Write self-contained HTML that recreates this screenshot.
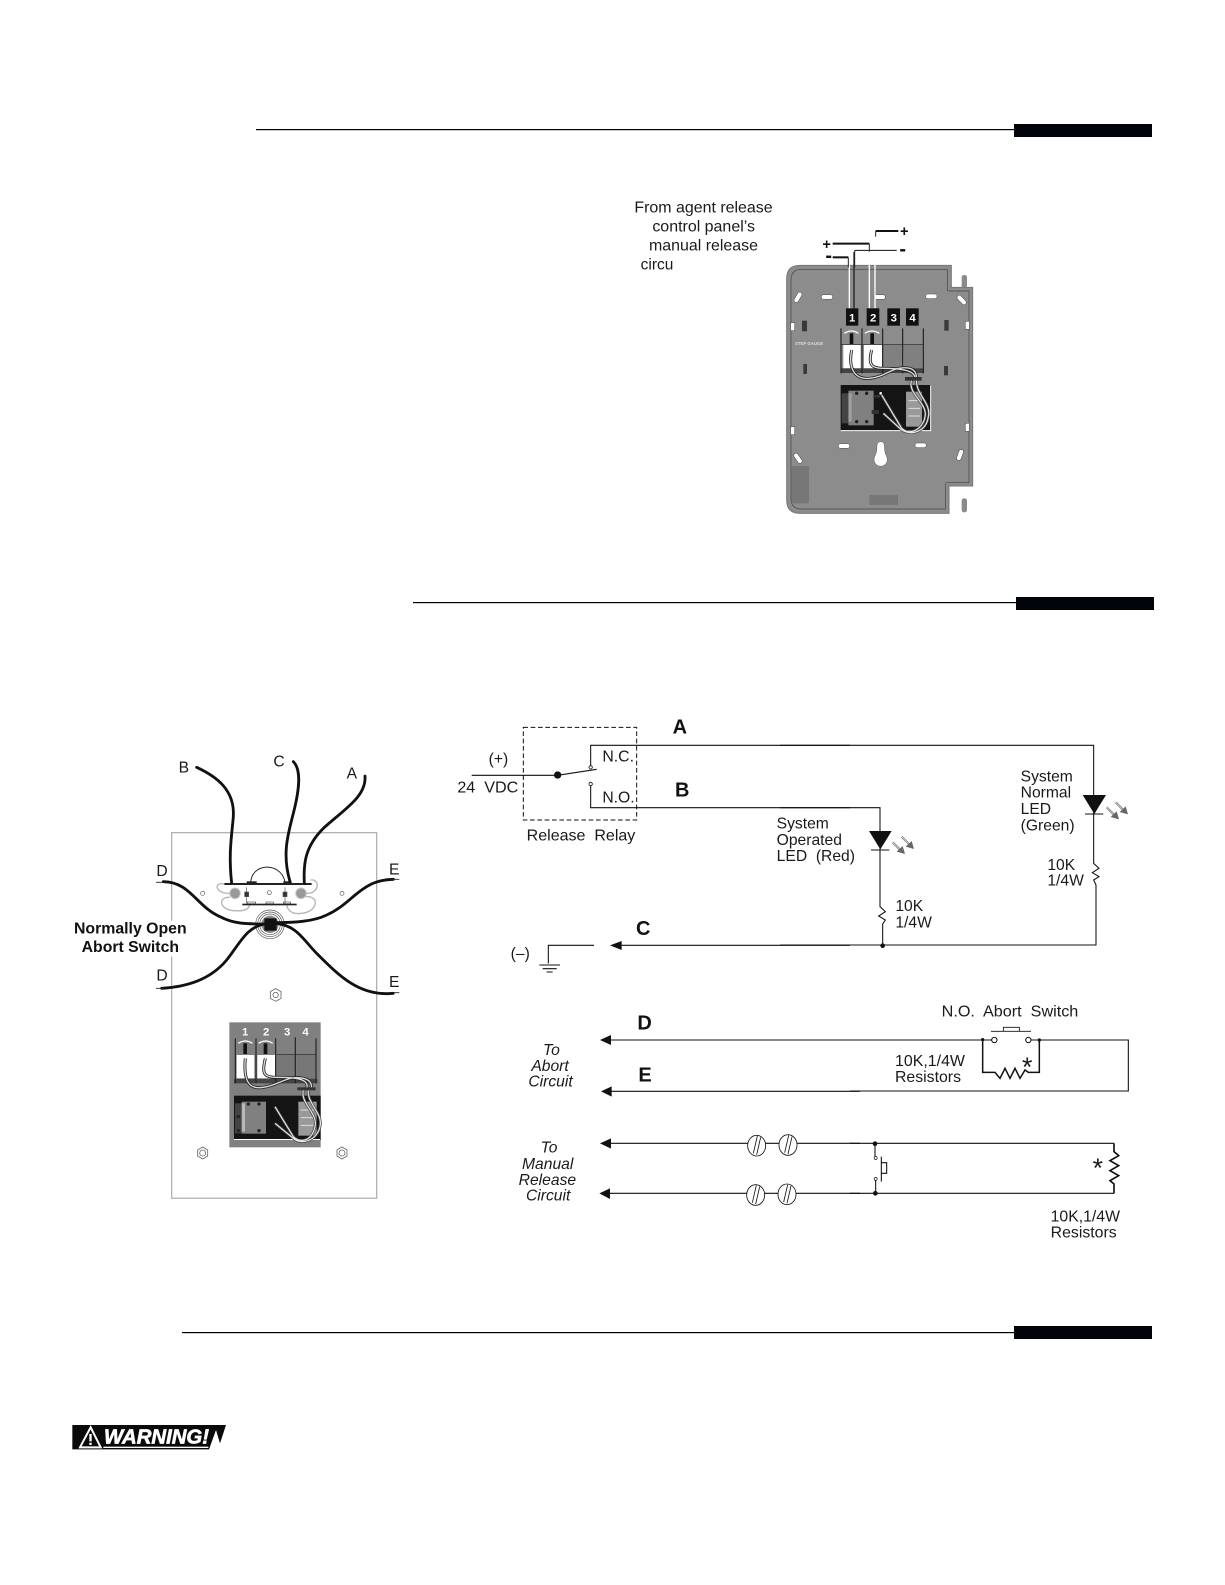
<!DOCTYPE html>
<html><head><meta charset="utf-8"><style>
html,body{margin:0;padding:0;background:#fff}
svg{display:block}
text{font-family:"Liberation Sans",sans-serif;fill:#1a1a1a;font-size:47px;white-space:pre}
.b{font-weight:bold;font-size:60px;fill:#111}
.i{font-style:italic}
.w{fill:none;stroke:#111;stroke-width:3.2}
.g{fill:none;stroke:#111;stroke-width:8.5;stroke-linecap:round}
.n{font-weight:bold;fill:#fff;font-size:34px}
</style></head><body>
<svg xmlns="http://www.w3.org/2000/svg" width="1225" height="1585" viewBox="0 0 1225 1585">
<rect width="1225" height="1585" fill="#fff"/>
<!-- header rules -->
<rect x="256" y="129" width="760" height="1.2" fill="#000"/><rect x="1014" y="124" width="138" height="13" fill="#01050a"/>
<rect x="413" y="602" width="605" height="1.2" fill="#000"/><rect x="1016" y="597" width="138" height="13" fill="#01050a"/>
<rect x="182" y="1332" width="834" height="1.2" fill="#000"/><rect x="1014" y="1326" width="138" height="13" fill="#01050a"/>

<!-- top right panel -->
<g transform="translate(600,180) scale(.33333)">
<text x="103" y="98" textLength="415" lengthAdjust="spacingAndGlyphs">From agent release</text>
<text x="157" y="155" textLength="308" lengthAdjust="spacingAndGlyphs">control panel’s</text>
<text x="147" y="212" textLength="327" lengthAdjust="spacingAndGlyphs">manual release</text>
<text x="122" y="268" textLength="98" lengthAdjust="spacingAndGlyphs">circu</text>
<rect x="1085" y="285" width="16" height="40" rx="7" fill="#8b8b8b"/>
<path d="M600 256H1054V322H1118V918H1047V1000H600Q560 1000 560 960V296Q560 256 600 256Z" fill="#8c8c8c" stroke="#777" stroke-width="3"/>
<path d="M605 268H1042V330Q1042 333 1050 333H1107V908H1040Q1036 908 1036 925V987H605Q573 987 573 955V300Q573 268 605 268Z" fill="#8c8c8c" stroke="#444" stroke-width="2"/>
<rect x="1085" y="955" width="16" height="42" rx="7" fill="#8b8b8b"/>
<rect x="575" y="858" width="52" height="112" rx="4" fill="#777"/><rect x="808" y="945" width="86" height="30" rx="3" fill="#777"/>
<g fill="#fff" stroke="#444" stroke-width="1.5">
<rect x="664" y="344" width="34" height="14" rx="7"/><rect x="822" y="344" width="34" height="14" rx="7"/><rect x="977" y="342" width="34" height="14" rx="7"/>
<rect x="715" y="791" width="34" height="14" rx="7"/><rect x="945" y="789" width="34" height="14" rx="7"/>
<rect x="577" y="345" width="34" height="14" rx="7" transform="rotate(-60 594 352)"/>
<rect x="1068" y="353" width="34" height="14" rx="7" transform="rotate(45 1085 360)"/>
<rect x="577" y="828" width="34" height="14" rx="7" transform="rotate(55 594 835)"/>
<rect x="1063" y="818" width="34" height="14" rx="7" transform="rotate(-70 1080 825)"/>
<rect x="572" y="428" width="12" height="24"/><rect x="1096" y="424" width="12" height="24"/><rect x="572" y="740" width="12" height="24"/><rect x="1096" y="730" width="12" height="24"/>
</g>
<g fill="#3a3a3a"><rect x="606" y="422" width="15" height="32"/><rect x="610" y="552" width="11" height="30"/><rect x="1033" y="420" width="13" height="32"/><rect x="1032" y="558" width="12" height="28"/></g>
<path d="M842 785a11 11 0 0 1 11 11q0 20 6 32a20 20 0 1 1-34 0q6-12 6-32a11 11 0 0 1 11-11Z" fill="#fff" stroke="#333" stroke-width="1"/>
<!-- external wires -->
<g fill="none">
<path d="M748 385V236" stroke="#fff" stroke-width="4"/><path d="M762 385V216" stroke="#222" stroke-width="4"/>
<path d="M808 385V196" stroke="#fff" stroke-width="4"/><path d="M825 385V156" stroke="#fff" stroke-width="4"/>
<path d="M698 232H745" stroke="#111" stroke-width="6"/><path d="M698 191H808" stroke="#111" stroke-width="6"/>
<path d="M764 211H890" stroke="#111" stroke-width="3"/><path d="M827 153H895" stroke="#111" stroke-width="6"/>
<path d="M745 232V262M808 191V215M764 211V262M827 153V170" stroke="#222" stroke-width="3"/>
</g>
<text class="b" x="667" y="207" style="font-size:44px">+</text><text class="b" x="676" y="246">-</text><text class="b" x="898" y="226">-</text><text class="b" x="900" y="168" style="font-size:44px">+</text>
<g fill="#111"><rect x="738" y="385" width="37" height="52"/><rect x="800" y="385" width="38" height="52"/><rect x="862" y="385" width="38" height="52"/><rect x="918" y="385" width="38" height="52"/></g>
<text class="n" x="747" y="424">1</text><text class="n" x="810" y="424">2</text><text class="n" x="872" y="424">3</text><text class="n" x="928" y="424">4</text>
<text x="585" y="495" style="font-size:13px;fill:#ddd;font-weight:bold">STEP GAUGE</text>
<!-- terminal block -->
<rect x="730" y="495" width="52" height="70" fill="#fff"/><rect x="792" y="495" width="54" height="70" fill="#fff"/>
<rect x="850" y="495" width="55" height="70" fill="#808080"/><rect x="912" y="495" width="56" height="70" fill="#808080"/>
<rect x="722" y="565" width="250" height="14" fill="#444"/>
<path d="M850 493H970M722 493H848" stroke="#222" stroke-width="2"/>
<g stroke="#222" stroke-width="3.5"><path d="M723 445V580M786 445V580M848 445V580M908 445V580M970 445V580"/></g>
<g fill="#111"><rect x="749" y="460" width="11" height="32"/><rect x="811" y="460" width="11" height="32"/></g>
<path d="M733 460Q755 446 775 460M795 460Q815 446 838 460" fill="none" stroke="#fff" stroke-width="4"/>
<!-- black box -->
<rect x="722" y="615" width="270" height="138" fill="#141414"/>
<path d="M722 752H992V616" stroke="#fff" stroke-width="3" fill="none"/>
<rect x="745" y="632" width="76" height="104" fill="#808080"/>
<rect x="725" y="640" width="20" height="90" fill="#444"/><rect x="745" y="640" width="10" height="85" fill="#ddd" opacity=".35"/>
<rect x="918" y="635" width="48" height="105" fill="#999"/>
<path d="M925 662H960M925 685H960M925 708H960" stroke="#ddd" stroke-width="3"/>
<g fill="none">
<path d="M755 510C745 560 760 600 810 595C860 590 880 555 930 565C945 570 950 580 950 600M815 510C805 550 810 565 850 565C900 565 950 570 945 600" stroke="#222" stroke-width="9"/>
<path d="M755 510C745 560 760 600 810 595C860 590 880 555 930 565C945 570 950 580 950 600M815 510C805 550 810 565 850 565C900 565 950 570 945 600" stroke="#ddd" stroke-width="4"/>
<path d="M935 600C920 640 985 670 975 710C970 745 930 770 905 745L845 645M950 600C945 640 995 670 985 710C980 750 940 770 905 750L850 700" stroke="#444" stroke-width="8"/>
<path d="M935 600C920 640 985 670 975 710C970 745 930 770 905 745L845 645M950 600C945 640 995 670 985 710C980 750 940 770 905 750L850 700" stroke="#e8e8e8" stroke-width="3.5"/>
</g>
<rect x="915" y="591" width="50" height="11" fill="#333"/>
<circle cx="842" cy="640" r="4" fill="#fff"/>
<g fill="#222"><circle cx="770" cy="640" r="5"/><circle cx="800" cy="640" r="5"/><circle cx="800" cy="725" r="5"/><circle cx="770" cy="725" r="5"/></g>
<rect x="820" y="645" width="20" height="8" fill="#333"/><rect x="815" y="690" width="22" height="12" fill="#333"/>
</g>

<!-- left panel -->
<rect x="171.7" y="832.7" width="205" height="365.5" fill="#fff" stroke="#aaa" stroke-width="1.2"/>
<g transform="translate(60,740) scale(.33333)">
<g fill="none" stroke="#b5b5b5" stroke-width="4">
<path d="M492 432C460 425 465 462 510 460M510 472C470 470 480 512 525 512C555 515 570 505 570 490"/>
<path d="M752 420C780 415 780 462 738 460M735 470C780 465 775 515 725 520C690 525 680 505 680 490"/>
</g>
<path d="M572 430C572 370 660 362 675 425" fill="none" stroke="#222" stroke-width="3"/>
<rect x="493" y="429" width="262" height="6" fill="#222"/><rect x="560" y="424" width="30" height="5" fill="#222"/><rect x="670" y="424" width="25" height="5" fill="#222"/>
<rect x="547" y="491" width="163" height="5" fill="#222"/>
<g fill="#fff" stroke="#222" stroke-width="1.5"><rect x="562" y="486" width="25" height="5"/><rect x="618" y="486" width="22" height="5"/><rect x="670" y="486" width="22" height="5"/></g>
<circle cx="525" cy="460" r="16" fill="#999" stroke="#ccc" stroke-width="3"/><circle cx="723" cy="460" r="16" fill="#999" stroke="#ccc" stroke-width="3"/>
<g fill="#fff" stroke="#555" stroke-width="2"><circle cx="428" cy="460" r="6"/><circle cx="628" cy="458" r="6"/><circle cx="846" cy="460" r="6"/></g>
<g stroke="#555" stroke-width="2" fill="#333"><path d="M560 442V490M675 442V490" fill="none"/><rect x="554" y="456" width="12" height="14"/><rect x="669" y="456" width="12" height="14"/></g>
<g fill="none" stroke="#555" stroke-width="2"><circle cx="630" cy="553" r="43"/><circle cx="630" cy="553" r="37"/><circle cx="630" cy="553" r="31"/></g>
<circle cx="630" cy="553" r="26" fill="#888"/>
<path class="g" d="M410 82C470 110 525 150 520 230C515 290 505 340 515 430"/>
<path class="g" d="M700 65C725 90 718 150 700 220C685 280 665 340 690 425"/>
<path class="g" d="M915 108C920 170 850 210 790 265C735 320 730 370 733 430"/>
<path class="g" d="M310 425C390 425 410 500 480 530C520 552 560 552 615 552"/>
<path class="g" d="M1000 418C900 420 880 490 800 525C760 545 700 548 645 548"/>
<path class="g" d="M305 745C380 740 450 720 500 660C540 610 560 560 615 552"/>
<path class="g" d="M1000 760C900 770 840 710 770 640C730 600 710 555 645 550"/>
<rect x="613" y="535" width="37" height="37" fill="#111"/>
<path d="M288 427H320M990 418H1018M288 745H310M1000 758H1018" stroke="#222" stroke-width="2.5"/>
<text x="356" y="98">B</text><text x="640" y="80">C</text><text x="860" y="116">A</text>
<text x="289" y="408">D</text><text x="987" y="403">E</text><text x="289" y="721">D</text><text x="987" y="741">E</text>
<rect x="38" y="542" width="346" height="108" fill="#fff"/>
<text class="b" x="42" y="580" style="font-size:47px" textLength="338" lengthAdjust="spacingAndGlyphs">Normally Open</text>
<text class="b" x="65" y="636" style="font-size:47px" textLength="292" lengthAdjust="spacingAndGlyphs">Abort Switch</text>
<g fill="none" stroke="#666" stroke-width="2.5"><path d="M647 746L663 755V775L647 784L631 775V755Z"/><circle cx="647" cy="765" r="8"/></g>
</g>
<g transform="translate(160,1000) scale(.33333)">
<rect x="208" y="67" width="274" height="375" fill="#808080"/>
<text class="n" x="246" y="106">1</text><text class="n" x="309" y="106">2</text><text class="n" x="372" y="106">3</text><text class="n" x="427" y="106">4</text>
<rect x="230" y="165" width="53" height="70" fill="#fff"/><rect x="292" y="165" width="53" height="70" fill="#fff"/>
<rect x="350" y="165" width="54" height="70" fill="#777"/><rect x="410" y="165" width="55" height="70" fill="#777"/>
<rect x="222" y="236" width="250" height="14" fill="#444"/>
<path d="M350 163H470" stroke="#222" stroke-width="2"/>
<g stroke="#222" stroke-width="3.5"><path d="M226 115V250M288 115V250M347 115V250M406 112V250M468 115V250"/></g>
<g fill="#111"><rect x="250" y="130" width="11" height="32"/><rect x="311" y="130" width="11" height="32"/></g>
<path d="M235 130Q256 116 277 130M296 130Q317 116 338 130" fill="none" stroke="#fff" stroke-width="4"/>
<rect x="222" y="287" width="260" height="133" fill="#141414"/>
<rect x="222" y="417" width="258" height="3" fill="#fff"/>
<rect x="245" y="305" width="73" height="96" fill="#808080"/><rect x="225" y="310" width="20" height="90" fill="#444"/><rect x="245" y="310" width="10" height="85" fill="#ddd" opacity=".6"/>
<rect x="415" y="305" width="55" height="102" fill="#999"/>
<path d="M422 330H460M422 353H460M422 376H460" stroke="#ddd" stroke-width="3"/>
<g fill="none">
<path d="M256 175C250 240 265 270 310 262C360 255 380 225 430 235C450 240 455 250 455 265M316 175C305 220 310 232 350 232C400 232 450 235 440 265" stroke="#222" stroke-width="9"/>
<path d="M256 175C250 240 265 270 310 262C360 255 380 225 430 235C450 240 455 250 455 265M316 175C305 220 310 232 350 232C400 232 450 235 440 265" stroke="#ddd" stroke-width="4"/>
<path d="M430 270C420 310 475 340 465 380C455 425 420 430 400 410L345 320M445 270C440 310 490 340 480 380C470 425 420 435 400 415L345 370" stroke="#444" stroke-width="8"/>
<path d="M430 270C420 310 475 340 465 380C455 425 420 430 400 410L345 320M445 270C440 310 490 340 480 380C470 425 420 435 400 415L345 370" stroke="#e8e8e8" stroke-width="3.5"/>
</g>
<rect x="412" y="262" width="55" height="9" fill="#333"/>
<g fill="#222"><circle cx="265" cy="312" r="5"/><circle cx="297" cy="312" r="5"/><circle cx="297" cy="392" r="5"/><circle cx="235" cy="392" r="5"/><circle cx="235" cy="350" r="5"/></g>
<g fill="none" stroke="#666" stroke-width="2.5"><path d="M128 441L143 450V468L128 477L113 468V450Z"/><circle cx="128" cy="459" r="9"/><path d="M546 441L561 450V468L546 477L531 468V450Z"/><circle cx="546" cy="459" r="9"/></g>
</g>

<!-- top schematic -->
<g transform="translate(450,700) scale(.33333)">
<rect x="220" y="82" width="340" height="278" fill="none" stroke="#111" stroke-width="3" stroke-dasharray="14 8"/>
<path class="w" d="M65 226H323L440 208"/>
<circle cx="323" cy="225" r="11" fill="#111"/>
<path class="w" d="M422 197V136H1200M422 258V323H1200"/>
<circle cx="422" cy="202" r="5" fill="#fff" stroke="#111" stroke-width="2.5"/><circle cx="422" cy="252" r="5" fill="#fff" stroke="#111" stroke-width="2.5"/>
<path class="w" d="M432 736H295V790M515 736H1200M268 795H330M278 806H320M290 816H308"/>
<path d="M480 736L515 723V750Z" fill="#111"/>
<text x="116" y="192">(+)</text><text x="22" y="277" textLength="183" lengthAdjust="spacingAndGlyphs">24  VDC</text>
<text x="457" y="185" textLength="95" lengthAdjust="spacingAndGlyphs">N.C.</text><text x="457" y="308" textLength="97" lengthAdjust="spacingAndGlyphs">N.O.</text>
<text x="230" y="422" textLength="326" lengthAdjust="spacingAndGlyphs">Release  Relay</text>
<text x="980" y="385">System</text><text x="980" y="435">Operated</text>
<text x="182" y="775">(–)</text>
<text class="b" x="668" y="100">A</text><text class="b" x="675" y="290">B</text><text class="b" x="558" y="705">C</text>
</g>
<g transform="translate(780,720) scale(.33333)">
<path class="w" d="M0 76H941V430L957 445L937 458L957 470L941 480L948 495V675H0"/>
<path class="w" d="M0 263H300V560L316 575L296 588L316 600L308 612V675"/>
<path d="M908 225H978L943 282Z" fill="#111"/><path d="M915 282H970" stroke="#111" stroke-width="3"/>
<path d="M267 333H335L301 388Z" fill="#111"/><path d="M273 390H328" stroke="#111" stroke-width="3"/>
<circle cx="308" cy="677" r="7" fill="#111"/>
<g fill="none" stroke-linecap="butt">
<path d="M338 367L364 393M365 350L391 376M980 262L1006 288M1007 247L1033 273" stroke="#555" stroke-width="6"/>
<path d="M338 367L364 393M365 350L391 376M980 262L1006 288M1007 247L1033 273" stroke="#eee" stroke-width="2.5"/>
</g>
<g fill="#666"><path d="M375 402L368 378L350 395ZM402 387L395 363L377 380ZM1017 298L1010 274L992 291ZM1044 283L1037 259L1019 276Z"/></g>
<text x="-10" y="423">LED  (Red)</text>
<text x="722" y="185">System</text><text x="722" y="233">Normal</text><text x="722" y="282">LED</text><text x="722" y="331">(Green)</text>
<text x="802" y="450">10K</text><text x="802" y="497">1/4W</text><text x="346" y="573">10K</text><text x="346" y="622">1/4W</text>
</g>

<!-- bottom schematic -->
<g transform="translate(510,990) scale(.33333)">
<path class="w" d="M300 150H1050M303 304H1050M300 460H1050M300 610H1050"/>
<path d="M270 150L303 135V165ZM273 304L305 289V320ZM270 460L303 445V476ZM268 610L300 595V627Z" fill="#111"/>
<g fill="#fff" stroke="#111" stroke-width="2.5">
<ellipse cx="740" cy="467" rx="27" ry="31"/><ellipse cx="834" cy="465" rx="27" ry="31"/><ellipse cx="737" cy="615" rx="27" ry="31"/><ellipse cx="831" cy="613" rx="27" ry="31"/>
<path d="M730 490L742 438M740 494L752 442M824 488L836 436M834 492L846 440M727 638L739 586M737 642L749 590M821 636L833 584M831 640L843 588" fill="none"/>
</g>
<text class="i" x="99" y="195">To</text><text class="i" x="64" y="243">Abort</text><text class="i" x="55" y="290">Circuit</text>
<text class="i" x="92" y="488">To</text><text class="i" x="36" y="537">Manual</text><text class="i" x="26" y="585">Release</text><text class="i" x="48" y="632">Circuit</text>
<text class="b" x="382" y="118">D</text><text class="b" x="385" y="274">E</text>
</g>
<g transform="translate(850,990) scale(.33333)">
<path class="w" d="M0 150H425M543 150H835V303H0M0 460H792M792 610H0"/>
<path d="M792 460V485L806 497L780 512L806 527L780 542L806 557L780 572L792 582V610" fill="none" stroke="#111" stroke-width="5"/>
<path d="M398 150V247H435L450 265L465 235L480 265L495 235L510 265L525 240L535 247H568V150" fill="none" stroke="#111" stroke-width="4.5"/>
<path d="M423 124H543M460 124V112H508V124" fill="none" stroke="#111" stroke-width="2.5"/>
<circle cx="433" cy="150" r="8" fill="#fff" stroke="#111" stroke-width="3"/><circle cx="535" cy="150" r="8" fill="#fff" stroke="#111" stroke-width="3"/>
<circle cx="398" cy="149" r="5" fill="#111"/><circle cx="568" cy="150" r="5" fill="#111"/>
<circle cx="75" cy="461" r="7" fill="#111"/><circle cx="76" cy="610" r="7" fill="#111"/>
<path class="w" d="M75 461V500M77 572V610M94 500V575M94 518H110V550H94"/>
<circle cx="77" cy="504" r="4.5" fill="#fff" stroke="#111" stroke-width="2"/><circle cx="77" cy="567" r="4.5" fill="#fff" stroke="#111" stroke-width="2"/>
<text x="275" y="80" textLength="410" lengthAdjust="spacingAndGlyphs">N.O.  Abort  Switch</text>
<text x="135" y="228" textLength="210" lengthAdjust="spacingAndGlyphs">10K,1/4W</text><text x="135" y="276" textLength="198" lengthAdjust="spacingAndGlyphs">Resistors</text>
<text x="602" y="695" textLength="208" lengthAdjust="spacingAndGlyphs">10K,1/4W</text><text x="602" y="743" textLength="198" lengthAdjust="spacingAndGlyphs">Resistors</text>
<text x="516" y="258" style="font-size:80px">*</text><text x="728" y="561" style="font-size:80px">*</text>
</g>

<!-- warning -->
<g transform="translate(60,1410) scale(.33333)">
<path d="M37 45H498L480 100L468 60L447 118H37Z" fill="#0a0a0a"/>
<path d="M92 52L122 112H60Z" fill="#0a0a0a" stroke="#fff" stroke-width="6"/>
<rect x="88" y="72" width="7" height="22" fill="#fff"/><rect x="88" y="98" width="7" height="7" fill="#fff"/>
<text x="132" y="100" class="i" style="font-weight:bold;font-size:62px;fill:#fff;stroke:#fff;stroke-width:2" textLength="315" lengthAdjust="spacingAndGlyphs">WARNING!</text>
<rect x="130" y="110" width="315" height="4" fill="#fff"/>
</g>
</svg>
</body></html>
